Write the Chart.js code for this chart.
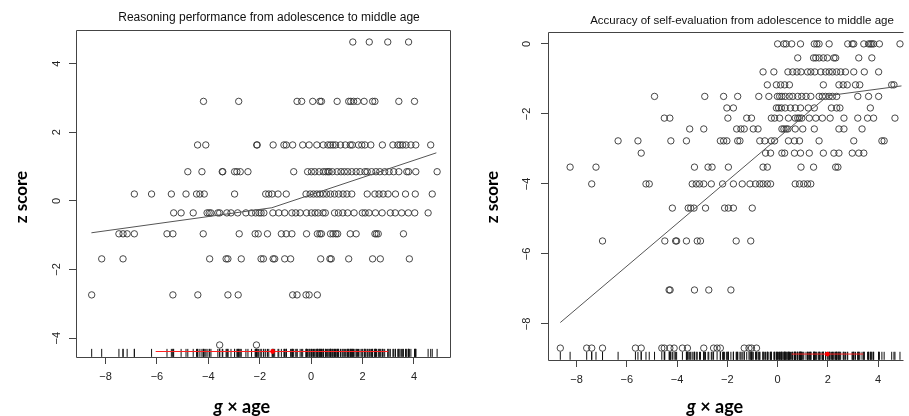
<!DOCTYPE html>
<html>
<head>
<meta charset="utf-8">
<script src="https://cdn.jsdelivr.net/npm/chart.js@4.4.0/dist/chart.umd.min.js"></script>
<style>
  html, body { margin: 0; padding: 0; background: #fff; overflow: hidden; }
  .panel { position: absolute; top: 0; height: 416px; }
  #p1 { left: 0; width: 456px; }
  #p2 { left: 455px; width: 454px; }
</style>
</head>
<body>
<div class="panel" id="p1"><canvas id="reasonChart"></canvas></div>
<div class="panel" id="p2"><canvas id="selfChart"></canvas></div>
<script>
// --- Reasoning performance (left panel) ---
const reasonLevels = [4.63, 2.9, 1.63, 0.85, 0.2, -0.35, -0.96, -1.69, -2.74, -4.2];
const reasonX = [
    [1.62, 2.26, 2.98, 3.79],
    [-4.19, -2.82, -0.55, -0.37, 0.06, 0.34, 0.40, 1.01, 1.46, 1.54, 1.65, 1.80, 2.06, 2.39, 2.48, 3.41, 4.02],
    [-4.42, -4.10, -2.12, -2.10, -1.48, -1.06, -0.97, -0.72, -0.33, -0.08, 0.22, 0.47, 0.65, 0.75, 0.85, 0.95, 1.14, 1.33, 1.52, 1.60, 1.84, 1.97, 2.09, 2.32, 2.77, 3.18, 3.37, 3.46, 3.56, 3.69, 3.88, 4.07, 4.65],
    [-4.80, -4.25, -3.46, -3.44, -2.98, -2.89, -2.76, -2.46, -0.68, -0.14, 0.01, 0.14, 0.31, 0.47, 0.56, 0.65, 0.70, 0.82, 1.01, 1.16, 1.29, 1.42, 1.58, 1.75, 1.90, 2.09, 2.18, 2.35, 2.52, 2.67, 2.86, 3.03, 3.21, 3.41, 3.72, 3.79, 4.07, 4.90],
    [-6.88, -6.21, -5.44, -4.87, -4.46, -4.33, -4.16, -2.98, -1.77, -1.65, -1.52, -1.29, -0.97, -0.20, -0.04, 0.09, 0.22, 0.34, 0.47, 0.60, 0.75, 0.91, 1.07, 1.24, 1.39, 1.58, 2.18, 2.48, 2.64, 2.80, 2.99, 3.28, 3.67, 4.05, 4.71],
    [-5.35, -5.06, -4.59, -4.05, -3.97, -3.90, -3.63, -3.56, -3.28, -3.12, -2.86, -2.54, -2.32, -2.16, -2.03, -1.95, -1.84, -1.49, -1.26, -1.03, -0.75, -0.60, -0.43, -0.18, 0.01, 0.15, 0.27, 0.46, 0.55, 0.91, 1.06, 1.23, 1.42, 1.67, 1.99, 2.10, 2.25, 2.50, 2.76, 3.08, 3.27, 3.52, 3.78, 4.03, 4.55],
    [-7.48, -7.32, -7.16, -6.88, -5.61, -5.38, -4.20, -2.80, -2.18, -2.06, -1.70, -1.16, -0.97, -0.75, -0.18, 0.24, 0.34, 0.40, 0.75, 0.85, 0.96, 1.03, 1.52, 1.75, 2.48, 2.54, 2.61, 3.59],
    [-8.15, -7.32, -3.95, -3.31, -3.24, -2.72, -1.95, -1.86, -1.48, -1.42, -1.03, -0.80, 0.37, 0.73, 0.78, 1.46, 2.39, 2.69, 3.82],
    [-8.54, -5.38, -4.41, -3.24, -2.84, -0.72, -0.55, -0.20, -0.08, 0.24],
    [-3.56, -2.13]
];
const reasonFitX = [-8.55, -1.53, 4.87];
const reasonFitY = [-0.93, -0.2, 1.4];
const reasonRedX = [-6.05, 3.0];
const reasonRedMid = -1.5;

// --- Accuracy of self-evaluation (right panel) ---
const selfLevels = [0, -0.4, -0.8, -1.17, -1.5, -1.83, -2.12, -2.43, -2.77, -3.12, -3.52, -4.0, -4.69, -5.63, -7.03, -8.69];
const selfX = [
    [0.00, 0.25, 0.34, 0.56, 0.91, 1.46, 1.56, 1.65, 2.05, 2.79, 2.97, 3.03, 3.43, 3.62, 3.69, 3.75, 3.82, 4.05, 4.87],
    [0.80, 1.43, 1.52, 1.65, 1.82, 1.98, 2.24, 2.31, 3.23, 3.75],
    [-0.58, -0.15, 0.41, 0.60, 0.77, 0.93, 1.19, 1.32, 1.48, 1.72, 1.91, 2.05, 2.18, 2.35, 2.51, 2.70, 3.03, 3.45, 4.02],
    [-0.41, -0.05, 0.12, 0.28, 0.47, 1.82, 2.44, 2.61, 2.77, 3.10, 3.27, 4.54, 4.63],
    [-4.90, -2.90, -2.15, -1.59, -0.75, -0.35, -0.01, 0.08, 0.17, 0.30, 0.47, 0.60, 0.80, 0.96, 1.13, 1.32, 1.65, 1.78, 1.91, 2.05, 2.18, 2.35, 3.19, 3.62, 4.02],
    [-2.02, -1.76, -0.05, 0.04, 0.15, 0.30, 0.51, 0.70, 0.91, 1.22, 1.46, 2.14, 2.35, 2.48, 3.69],
    [-4.51, -4.29, -1.98, -1.23, -1.04, -0.25, -0.12, 0.08, 0.43, 0.70, 0.80, 0.87, 0.96, 1.26, 1.52, 1.78, 2.09, 2.64, 3.19, 3.58, 3.82, 4.67],
    [-3.50, -2.94, -1.63, -1.46, -1.33, -0.97, -0.78, 0.17, 0.25, 0.34, 0.41, 0.70, 1.00, 1.46, 2.44, 2.64, 3.36],
    [-6.35, -5.56, -4.25, -3.63, -2.28, -2.15, -2.02, -1.59, -1.50, -0.71, -0.51, -0.25, -0.12, 0.43, 0.67, 0.87, 1.65, 3.03, 4.15, 4.24],
    [-5.43, -0.48, -0.28, 0.17, 0.28, 0.67, 0.91, 1.26, 1.82, 2.24, 2.44, 2.97, 3.23, 3.43],
    [-8.26, -7.23, -3.31, -2.77, -2.61, -1.96, -0.58, -0.41, 0.93, 1.43, 2.31, 2.40],
    [-7.40, -5.24, -5.11, -3.40, -3.24, -3.11, -2.94, -2.64, -2.19, -1.76, -1.41, -1.10, -0.88, -0.71, -0.58, -0.41, -0.28, 0.70, 0.87, 1.04, 1.19, 1.32],
    [-4.19, -3.56, -3.46, -3.33, -2.87, -2.11, -1.96, -1.76, -1.01],
    [-6.97, -4.49, -4.06, -4.02, -3.63, -3.20, -3.07, -1.65, -1.07],
    [-4.32, -4.28, -3.31, -2.74, -1.86],
    [-8.65, -7.60, -7.40, -6.97, -5.66, -5.43, -4.61, -4.51, -4.29, -4.12, -3.79, -3.59, -2.94, -2.55, -2.41, -2.28, -1.33, -1.14, -1.04, -0.84]
];
const selfFitX = [-8.65, 2.0, 4.93];
const selfFitY = [-7.96, -1.48, -1.2];
const selfRedX = [0.56, 3.41];
const selfRedMid = 1.98;

const xTickStep = 2;
const yTickStep = 2;

// vẽ khung, tiêu đề, nhãn trục theo kiểu R
const rDecor = {
    id: 'rDecor',
    afterDraw(chart, args, o) {
        const { ctx, chartArea: a, scales } = chart;
        ctx.save();
        ctx.strokeStyle = '#444';
        ctx.lineWidth = 1;
        ctx.beginPath();
        const L = Math.round(a.left) + 0.5, R = Math.round(a.right) - 0.5;
        const T = Math.round(a.top) + 0.5, B = Math.round(a.bottom) + 0.5;
        ctx.moveTo(R, T); ctx.lineTo(L, T); ctx.lineTo(L, B); ctx.lineTo(R, B);
        if (o.rightSide) ctx.lineTo(R, T);
        ctx.stroke();

        // nhãn trục y xoay 90 độ
        ctx.fillStyle = '#222';
        ctx.font = '11px "Liberation Sans", Arial, sans-serif';
        ctx.textAlign = 'center';
        ctx.textBaseline = 'middle';
        scales.y.ticks.forEach(t => {
            const py = scales.y.getPixelForValue(t.value);
            ctx.save();
            ctx.translate(o.yLabelX, py);
            ctx.rotate(-Math.PI / 2);
            ctx.fillText(String(t.value).replace('-', '\u2212'), 0, 0);
            ctx.restore();
        });

        // tiêu đề
        ctx.fillStyle = '#111';
        ctx.font = o.titleFont;
        ctx.fillText(o.title, o.titleX, o.titleY);

        // z score
        ctx.save();
        ctx.translate(o.yTitleX, o.yTitleY);
        ctx.rotate(-Math.PI / 2);
        ctx.textBaseline = 'alphabetic';
        ctx.font = 'bold 17px Lato, "Open Sans", sans-serif';
        ctx.fillStyle = '#000';
        ctx.fillText('z score', 0, 0);
        ctx.restore();

        // g × age
        ctx.textBaseline = 'alphabetic';
        ctx.textAlign = 'left';
        ctx.fillStyle = '#000';
        const fIt = 'italic bold 18px Lato, "Open Sans", sans-serif';
        const fB = 'bold 18px Lato, "Open Sans", sans-serif';
        ctx.font = fIt; const wg = ctx.measureText('g').width;
        ctx.font = fB; const wr = ctx.measureText(' \u00d7 age').width;
        let x0 = o.xTitleX - (wg + wr) / 2;
        ctx.font = fIt; ctx.fillText('g', x0, o.xTitleY);
        ctx.font = fB; ctx.fillText(' \u00d7 age', x0 + wg, o.xTitleY);
        ctx.restore();
    }
};

function toPoints(levels, rows) {
    return rows.flatMap((xs, i) => xs.map(x => ({ x: x, y: levels[i] })));
}

function makeChart(id, cfg) {
    const pts = toPoints(cfg.levels, cfg.rows);
    const rug = pts.map(p => ({ x: p.x, y: cfg.rugY }));
    const fit = cfg.fitX.map((x, i) => ({ x: x, y: cfg.fitY[i] }));
    const red = cfg.redX.map(x => ({ x: x, y: cfg.redY }));
    // dataset đầu tiên được vẽ trên cùng
    return new Chart(document.getElementById(id), {
        type: 'scatter',
        data: {
            datasets: [
                { data: [{ x: cfg.redMid, y: cfg.redY }], pointRadius: 2.4, backgroundColor: '#ff0000', borderColor: '#ff0000', borderWidth: 0 },
                { data: red, showLine: true, pointRadius: 0, borderColor: '#ff2020', borderWidth: 1 },
                { data: rug, pointStyle: 'line', rotation: 90, pointRadius: 4, borderColor: '#111', borderWidth: 1 },
                { data: fit, showLine: true, pointRadius: 0, borderColor: '#555', borderWidth: 1 },
                { data: pts, pointStyle: 'circle', pointRadius: 3.2, backgroundColor: 'rgba(0,0,0,0)', borderColor: '#333', borderWidth: 0.9 }
            ]
        },
        options: {
            responsive: true,
            maintainAspectRatio: false,
            animation: false,
            events: [],
            layout: { padding: { top: cfg.top, right: cfg.right, left: 0, bottom: 0 } },
            plugins: { legend: { display: false }, tooltip: { enabled: false }, rDecor: cfg.decor },
            scales: {
                x: {
                    type: 'linear', min: cfg.xMin, max: cfg.xMax,
                    ticks: {
                        stepSize: xTickStep, includeBounds: false, padding: 6, color: '#222',
                        font: { family: '"Liberation Sans", Arial, sans-serif', size: 11 },
                        callback: v => String(v).replace('-', '\u2212')
                    },
                    grid: { drawOnChartArea: false, drawTicks: true, tickLength: 7, color: '#444' },
                    border: { display: false },
                    afterFit: s => { s.height = cfg.xAxisH; }
                },
                y: {
                    type: 'linear', min: cfg.yMin, max: cfg.yMax,
                    ticks: { stepSize: yTickStep, includeBounds: false, display: false },
                    grid: { drawOnChartArea: false, drawTicks: true, tickLength: 7, color: '#444' },
                    border: { display: false },
                    afterFit: s => { s.width = cfg.yAxisW; }
                }
            }
        },
        plugins: [rDecor]
    });
}

makeChart('reasonChart', {
    levels: reasonLevels, rows: reasonX, fitX: reasonFitX, fitY: reasonFitY,
    redX: reasonRedX, redMid: reasonRedMid, redY: -4.39, rugY: -4.43,
    xMin: -9.15, xMax: 5.44, yMin: -4.55, yMax: 4.98,
    top: 30, right: 1, xAxisH: 59, yAxisW: 76,
    decor: {
        rightSide: true, yLabelX: 57,
        title: 'Reasoning performance from adolescence to middle age',
        titleFont: '12px "Liberation Sans", Arial, sans-serif', titleX: 269, titleY: 18,
        yTitleX: 27, yTitleY: 197, xTitleX: 242, xTitleY: 413
    }
});

makeChart('selfChart', {
    levels: selfLevels, rows: selfX, fitX: selfFitX, fitY: selfFitY,
    redX: selfRedX, redMid: selfRedMid, redY: -8.86, rugY: -8.91,
    xMin: -9.14, xMax: 5.03, yMin: -9.03, yMax: 0.34,
    top: 32, right: 0, xAxisH: 56, yAxisW: 93,
    decor: {
        rightSide: false, yLabelX: 72,
        title: 'Accuracy of self-evaluation from adolescence to middle age',
        titleFont: '11.5px "Liberation Sans", Arial, sans-serif', titleX: 287, titleY: 21,
        yTitleX: 43, yTitleY: 197, xTitleX: 260, xTitleY: 413
    }
});
</script>
</body>
</html>
